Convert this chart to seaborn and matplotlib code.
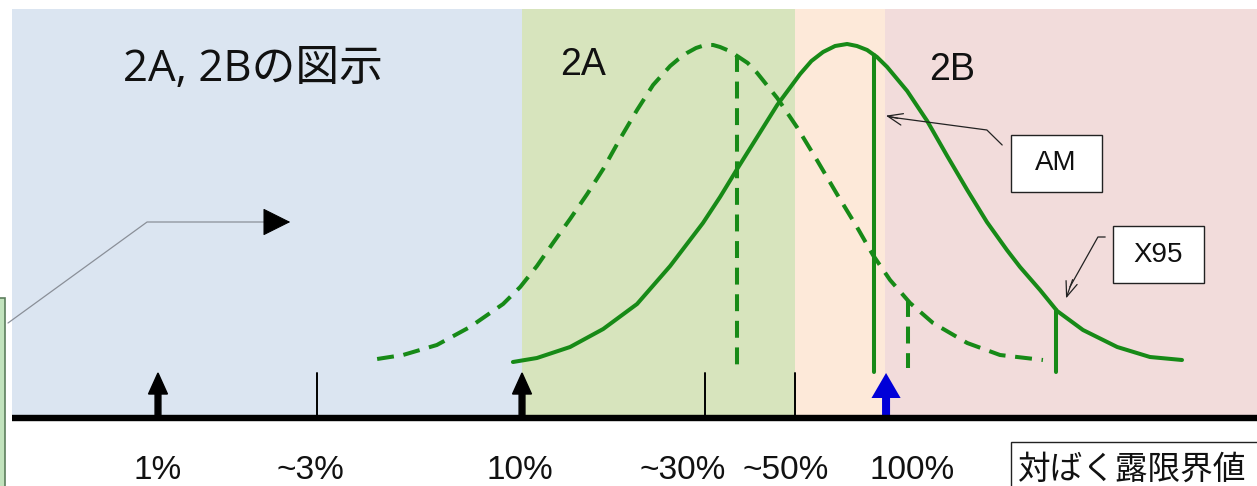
import matplotlib
matplotlib.use("Agg")
import matplotlib.pyplot as plt
import seaborn as sns
from matplotlib.patches import Rectangle

# x: log10(% of exposure limit), y: relative height above the axis line
band_edges = [-0.402, 1.0, 1.750, 1.997, 3.05]
band_colors = ["#dbe5f1", "#d7e4bd", "#fde9d9", "#f2dcdb"]
band_top = 409

dashed_x = [0.602, 0.673, 0.766, 0.857, 0.948, 0.995, 1.041, 1.085, 1.132, 1.179,
            1.223, 1.269, 1.316, 1.360, 1.407, 1.430, 1.453, 1.478, 1.503, 1.525,
            1.544, 1.570, 1.591, 1.620, 1.646, 1.701, 1.755, 1.810, 1.865, 1.920,
            1.964, 2.011, 2.066, 2.129, 2.223, 2.313, 2.431]
dashed_y = [59, 63, 73, 91, 114, 131, 152, 175, 199, 224,
            249, 279, 308, 333, 352, 359, 365, 370, 373, 373,
            371, 367, 362, 355, 345, 320, 291, 258, 224, 191,
            163, 138, 115, 95, 75, 63, 58]

solid_x = [0.975, 1.041, 1.132, 1.223, 1.316, 1.407, 1.497, 1.544, 1.591, 1.646,
           1.701, 1.764, 1.795, 1.827, 1.860, 1.893, 1.920, 1.948, 1.975, 2.003,
           2.058, 2.113, 2.168, 2.223, 2.277, 2.332, 2.368, 2.423, 2.470, 2.541,
           2.635, 2.725, 2.813]
solid_y = [56, 60, 71, 89, 114, 152, 195, 221, 249, 281,
           313, 344, 357, 366, 372, 374, 372, 368, 361, 351,
           327, 297, 262, 228, 196, 168, 151, 128, 107, 88,
           71, 61, 58]

# vertical markers: (x, top, bottom)
dashed_marks_x = [1.591, 2.060]
dashed_marks_top = [363, 118]
dashed_marks_bottom = [46, 50]
solid_marks_x = [1.967, 2.467]
solid_marks_top = [363, 108]
solid_marks_bottom = [46, 46]

tick_x = [0.437, 1.503, 1.750]
arrow_x = [0.0, 1.0]
blue_arrow_x = 2.0

label_x = [0.0, 0.418, 0.995, 1.442, 1.725, 2.071]
labels = ["1%", "~3%", "10%", "~30%", "~50%", "100%"]

green = "#178a17"

sns.set_theme(style="white")
plt.rcParams["font.family"] = ["Liberation Sans", "DejaVu Sans"]

fig = plt.figure(figsize=(12.57, 4.86), dpi=100)
ax = fig.add_axes([0, 0, 1, 1])
ax.set_xlim(-0.434, 3.019)
ax.set_ylim(-68, 418)
ax.axis("off")

# background bands
for i, c in enumerate(band_colors):
    ax.add_patch(Rectangle((band_edges[i], 0), band_edges[i + 1] - band_edges[i], band_top,
                           facecolor=c, edgecolor="none", zorder=0))

# left partial green box
ax.add_patch(Rectangle((-0.45, -80), 0.03, 200, facecolor="#c2e3bd",
                       edgecolor="#5d7f5d", lw=1.2, zorder=1))

# curves
dash = (0, (4.2, 2.4))
sns.lineplot(x=dashed_x, y=dashed_y, sort=False, estimator=None, ax=ax,
             color=green, lw=2.9, linestyle=dash, zorder=3)
sns.lineplot(x=solid_x, y=solid_y, sort=False, estimator=None, ax=ax,
             color=green, lw=2.9, zorder=3)

for x, t, b in zip(dashed_marks_x, dashed_marks_top, dashed_marks_bottom):
    sns.lineplot(x=[x, x], y=[t, b], sort=False, estimator=None, ax=ax,
                 color=green, lw=2.9, linestyle=dash, zorder=3)
for x, t, b in zip(solid_marks_x, solid_marks_top, solid_marks_bottom):
    sns.lineplot(x=[x, x], y=[t, b], sort=False, estimator=None, ax=ax,
                 color=green, lw=2.9, zorder=3)

# axis line and ticks
ax.plot([band_edges[0], band_edges[-1]], [0, 0], color="black", lw=4.6,
        solid_capstyle="butt", zorder=5)
for x in tick_x:
    ax.plot([x, x], [45, 2], color="black", lw=1.4, zorder=4)

for x in arrow_x:
    ax.arrow(x, 2, 0, 43, width=0.016, head_width=0.052, head_length=21,
             length_includes_head=True, color="black", zorder=4)
ax.arrow(blue_arrow_x, 2, 0, 43, width=0.022, head_width=0.080, head_length=25,
         length_includes_head=True, color="#0000d8", lw=0, zorder=4)

# labels below axis
for x, s in zip(label_x, labels):
    ax.text(x, -52, s, ha="center", va="center", fontsize=24, color="#111111")

# region labels
ax.text(-0.096, 348, "2A, 2Bの図示", ha="left", va="center", fontsize=31.5,
        family=["Open Sans", "Noto Sans CJK JP"], color="#111111")
ax.text(1.168, 353, "2A", ha="center", va="center", fontsize=27, color="#111111")
ax.text(2.181, 348, "2B", ha="center", va="center", fontsize=27, color="#111111")

# AM / X95 boxes
ax.add_patch(Rectangle((2.343, 226), 0.250, 57, facecolor="white", edgecolor="#222222",
                       lw=1.0, zorder=6))
ax.text(2.467, 255, "AM", ha="center", va="center", fontsize=20, color="#111111", zorder=7)
ax.add_patch(Rectangle((2.624, 135), 0.250, 57, facecolor="white", edgecolor="#222222",
                       lw=1.0, zorder=6))
ax.text(2.747, 163, "X95", ha="center", va="center", fontsize=20, color="#111111", zorder=7)

# leader arrows
ax.plot([2.319, 2.277, 2.010], [273, 288, 301], color="#222222", lw=0.9, zorder=6)
ax.annotate("", xy=(1.992, 303), xytext=(2.040, 299),
            arrowprops=dict(arrowstyle="->,head_length=0.9,head_width=0.35",
                            color="#222222", lw=0.9, mutation_scale=12), zorder=6)
ax.plot([2.602, 2.582, 2.505], [181, 181, 131], color="#222222", lw=0.9, zorder=6)
ax.annotate("", xy=(2.492, 117), xytext=(2.515, 141),
            arrowprops=dict(arrowstyle="->,head_length=0.9,head_width=0.35",
                            color="#222222", lw=0.9, mutation_scale=12), zorder=6)

# left gray pointer
ax.plot([-0.412, -0.030, 0.302], [95, 196, 196], color="#8a8f98", lw=0.9, zorder=4)
ax.annotate("", xy=(0.371, 196), xytext=(0.300, 196),
            arrowprops=dict(arrowstyle="-|>,head_length=1.8,head_width=0.9",
                            color="black", lw=0.8, mutation_scale=10), zorder=5)

# bottom-right legend box (cut off at the edge)
ax.add_patch(Rectangle((2.343, -90), 1.0, 66, facecolor="white", edgecolor="#222222",
                       lw=1.0, zorder=6))
ax.text(2.363, -52, "対ばく露限界値", ha="left", va="center", fontsize=23.5,
        family=["Noto Sans CJK JP", "DejaVu Sans"], color="#111111", zorder=7)

fig.savefig("out.png", dpi=100)
